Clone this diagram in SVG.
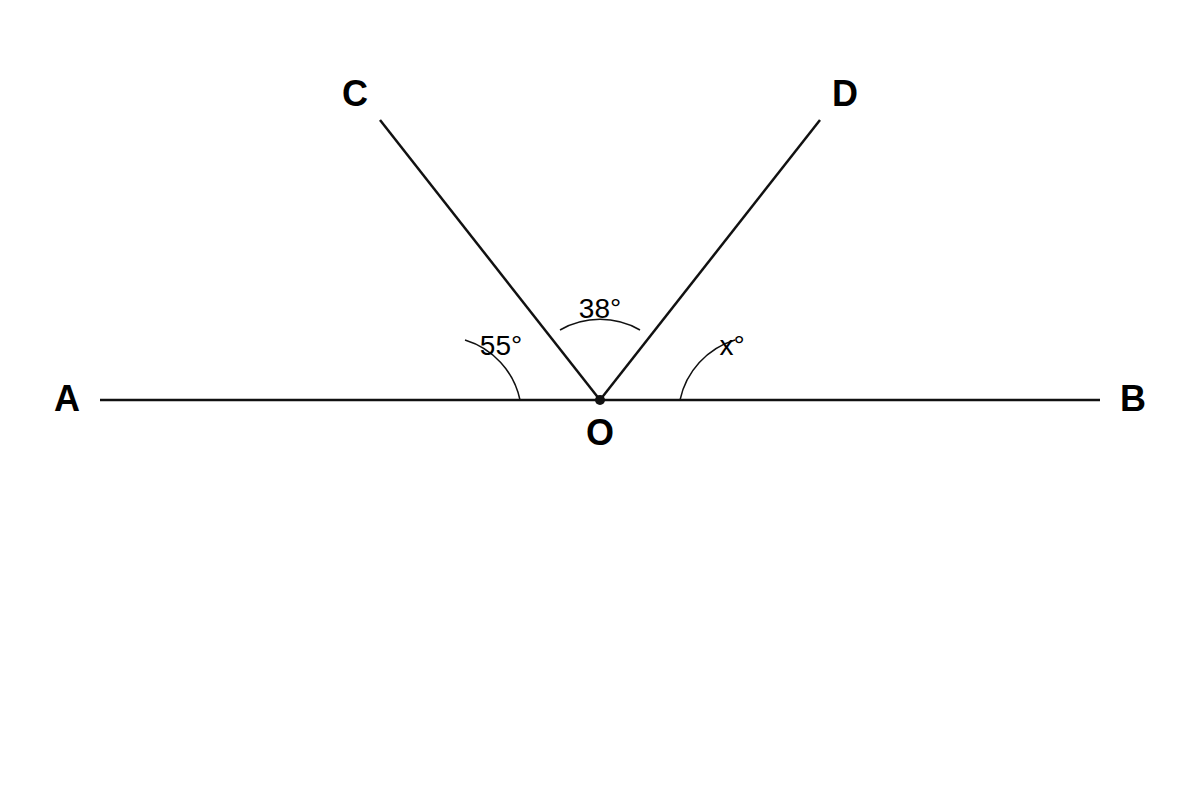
<svg xmlns="http://www.w3.org/2000/svg" width="1200" height="800" viewBox="0 0 1200 800">
<style>
.ln{stroke:#111;stroke-width:2.5;fill:none}
.arc{stroke:#111;stroke-width:1.5;fill:none}
.pt{font-family:"Liberation Sans",Arial,sans-serif;font-weight:bold;font-size:36px;fill:#000;text-anchor:middle}
.ang{font-family:"Liberation Sans",Arial,sans-serif;font-size:28px;fill:#000;text-anchor:middle}
</style>
<rect width="1200" height="800" fill="#fff"/>
<g id="connectors">
<line class="ln" x1="100" y1="400" x2="1100" y2="400"/>
<line class="ln" x1="600" y1="400" x2="380" y2="120"/>
<line class="ln" x1="600" y1="400" x2="820" y2="120"/>
</g>
<g id="arcs">
<path class="arc" d="M520,400 A80,80 0 0 0 465,340"/>
<path class="arc" d="M560,330 A80,80 0 0 1 640,330"/>
<path class="arc" d="M680,400 A80,80 0 0 1 735,340"/>
</g>
<g id="O"><circle cx="600" cy="400" r="5" fill="#111"/><text class="pt" x="600" y="445">O</text></g>
<g id="A"><text class="pt" x="67" y="411">A</text></g>
<g id="B"><text class="pt" x="1133" y="411">B</text></g>
<g id="C"><text class="pt" x="355" y="106">C</text></g>
<g id="D"><text class="pt" x="845" y="106">D</text></g>
<g id="labels">
<text class="ang" x="600" y="318">38°</text>
<text class="ang" x="501" y="355">55°</text>
<text class="ang" x="732" y="355">x°</text>
</g>
</svg>
